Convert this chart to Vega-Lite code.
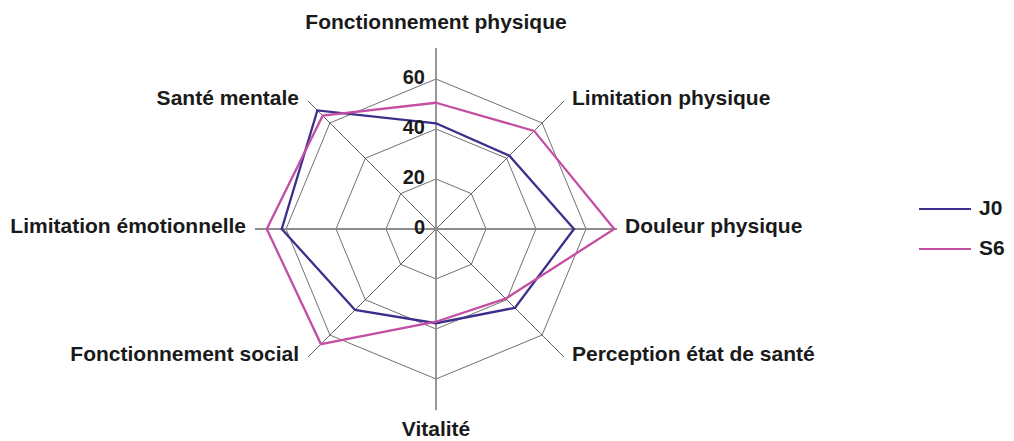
{
  "$schema": "https://vega.github.io/schema/vega-lite/v6.json",
  "width": 1014,
  "height": 441,
  "padding": 0,
  "autosize": {"type": "none"},
  "background": "white",
  "config": {"view": {"stroke": null}, "font": "Liberation Sans"},
  "datasets": {
    "axes": [
      {"axis": "Fonctionnement physique", "k": 0},
      {"axis": "Limitation physique", "k": 1},
      {"axis": "Douleur physique", "k": 2},
      {"axis": "Perception état de santé", "k": 3},
      {"axis": "Vitalité", "k": 4},
      {"axis": "Fonctionnement social", "k": 5},
      {"axis": "Limitation émotionnelle", "k": 6},
      {"axis": "Santé mentale", "k": 7}
    ],
    "grid": [
      {"level": 20, "k": 0}, {"level": 20, "k": 1}, {"level": 20, "k": 2}, {"level": 20, "k": 3},
      {"level": 20, "k": 4}, {"level": 20, "k": 5}, {"level": 20, "k": 6}, {"level": 20, "k": 7},
      {"level": 40, "k": 0}, {"level": 40, "k": 1}, {"level": 40, "k": 2}, {"level": 40, "k": 3},
      {"level": 40, "k": 4}, {"level": 40, "k": 5}, {"level": 40, "k": 6}, {"level": 40, "k": 7},
      {"level": 60, "k": 0}, {"level": 60, "k": 1}, {"level": 60, "k": 2}, {"level": 60, "k": 3},
      {"level": 60, "k": 4}, {"level": 60, "k": 5}, {"level": 60, "k": 6}, {"level": 60, "k": 7}
    ],
    "ticks": [{"level": 0}, {"level": 20}, {"level": 40}, {"level": 60}],
    "scores": [
      {"serie": "J0", "axis": "Fonctionnement physique", "k": 0, "value": 42.3},
      {"serie": "J0", "axis": "Limitation physique", "k": 1, "value": 41.5},
      {"serie": "J0", "axis": "Douleur physique", "k": 2, "value": 55.2},
      {"serie": "J0", "axis": "Perception état de santé", "k": 3, "value": 44.6},
      {"serie": "J0", "axis": "Vitalité", "k": 4, "value": 37.7},
      {"serie": "J0", "axis": "Fonctionnement social", "k": 5, "value": 45.8},
      {"serie": "J0", "axis": "Limitation émotionnelle", "k": 6, "value": 61.7},
      {"serie": "J0", "axis": "Santé mentale", "k": 7, "value": 67.1},
      {"serie": "S6", "axis": "Fonctionnement physique", "k": 0, "value": 50.5},
      {"serie": "S6", "axis": "Limitation physique", "k": 1, "value": 55.5},
      {"serie": "S6", "axis": "Douleur physique", "k": 2, "value": 71.3},
      {"serie": "S6", "axis": "Perception état de santé", "k": 3, "value": 39.4},
      {"serie": "S6", "axis": "Vitalité", "k": 4, "value": 37.1},
      {"serie": "S6", "axis": "Fonctionnement social", "k": 5, "value": 65.1},
      {"serie": "S6", "axis": "Limitation émotionnelle", "k": 6, "value": 67.7},
      {"serie": "S6", "axis": "Santé mentale", "k": 7, "value": 64.1}
    ]
  },
  "encoding": {
    "x": {"field": "x", "type": "quantitative", "scale": {"domain": [-174.4, 231.2], "nice": false, "zero": false}, "axis": null},
    "y": {"field": "y", "type": "quantitative", "scale": {"domain": [-84.8, 91.6], "nice": false, "zero": false}, "axis": null}
  },
  "layer": [
    {
      "data": {"name": "grid"},
      "transform": [
        {"calculate": "datum.k * PI / 4", "as": "a"},
        {"calculate": "datum.level * sin(datum.a)", "as": "x"},
        {"calculate": "datum.level * cos(datum.a)", "as": "y"}
      ],
      "mark": {"type": "line", "interpolate": "linear-closed", "stroke": "#4d4d4d", "strokeWidth": 0.8},
      "encoding": {
        "detail": {"field": "level", "type": "nominal"},
        "order": {"field": "k", "type": "quantitative"}
      }
    },
    {
      "data": {"name": "axes"},
      "transform": [
        {"filter": "datum.k % 2 == 1"},
        {"calculate": "datum.k * PI / 4", "as": "a"},
        {"calculate": "72.4 * sin(datum.a)", "as": "x"},
        {"calculate": "72.4 * cos(datum.a)", "as": "y"}
      ],
      "mark": {"type": "rule", "stroke": "#3a3a3a", "strokeWidth": 0.8},
      "encoding": {"x2": {"datum": 0}, "y2": {"datum": 0}}
    },
    {
      "data": {"name": "axes"},
      "transform": [
        {"filter": "datum.k % 2 == 0"},
        {"calculate": "datum.k * PI / 4", "as": "a"},
        {"calculate": "72.4 * sin(datum.a)", "as": "x"},
        {"calculate": "72.4 * cos(datum.a)", "as": "y"}
      ],
      "mark": {"type": "rule", "stroke": "#8c8c8c", "strokeWidth": 1.8},
      "encoding": {"x2": {"datum": 0}, "y2": {"datum": 0}}
    },
    {
      "data": {"name": "scores"},
      "transform": [
        {"calculate": "datum.k * PI / 4", "as": "a"},
        {"calculate": "datum.value * sin(datum.a)", "as": "x"},
        {"calculate": "datum.value * cos(datum.a)", "as": "y"}
      ],
      "mark": {"type": "line", "interpolate": "linear-closed", "strokeWidth": 2.3},
      "encoding": {
        "color": {
          "field": "serie",
          "type": "nominal",
          "scale": {"domain": ["J0", "S6"], "range": ["#3b2f8b", "#c44ea3"]},
          "legend": {
            "title": null,
            "orient": "none",
            "legendX": 918,
            "legendY": 182,
            "symbolType": "stroke",
            "symbolSize": 2700,
            "symbolStrokeWidth": 2,
            "labelFontSize": 21,
            "labelFont": "Liberation Sans",
            "labelFontWeight": "bold",
            "labelColor": "#1a1a1a",
            "labelOffset": 7,
            "rowPadding": 3
          }
        },
        "order": {"field": "k", "type": "quantitative"}
      }
    },
    {
      "data": {"name": "ticks"},
      "transform": [
        {"calculate": "0", "as": "x"},
        {"calculate": "datum.level", "as": "y"}
      ],
      "mark": {"type": "text", "align": "right", "baseline": "middle", "dx": -11, "dy": -1, "fontSize": 20, "fontWeight": "bold", "color": "#1a1a1a"},
      "encoding": {"text": {"field": "level", "type": "quantitative"}}
    },
    {
      "data": {"name": "axes"},
      "transform": [
        {"filter": "datum.k >= 1 && datum.k <= 3"},
        {"calculate": "datum.k * PI / 4", "as": "a"},
        {"calculate": "72.4 * sin(datum.a)", "as": "x"},
        {"calculate": "72.4 * cos(datum.a)", "as": "y"}
      ],
      "mark": {"type": "text", "align": "left", "baseline": "middle", "dx": 8, "dy": -2, "fontSize": 21, "fontWeight": "bold", "color": "#1a1a1a"},
      "encoding": {"text": {"field": "axis", "type": "nominal"}}
    },
    {
      "data": {"name": "axes"},
      "transform": [
        {"filter": "datum.k >= 5"},
        {"calculate": "datum.k * PI / 4", "as": "a"},
        {"calculate": "72.4 * sin(datum.a)", "as": "x"},
        {"calculate": "72.4 * cos(datum.a)", "as": "y"}
      ],
      "mark": {"type": "text", "align": "right", "baseline": "middle", "dx": -9, "dy": -2, "fontSize": 21, "fontWeight": "bold", "color": "#1a1a1a"},
      "encoding": {"text": {"field": "axis", "type": "nominal"}}
    },
    {
      "data": {"name": "axes"},
      "transform": [
        {"filter": "datum.k == 0"},
        {"calculate": "0", "as": "x"},
        {"calculate": "72.4", "as": "y"}
      ],
      "mark": {"type": "text", "align": "center", "baseline": "middle", "dy": -25, "fontSize": 21, "fontWeight": "bold", "color": "#1a1a1a"},
      "encoding": {"text": {"field": "axis", "type": "nominal"}}
    },
    {
      "data": {"name": "axes"},
      "transform": [
        {"filter": "datum.k == 4"},
        {"calculate": "0", "as": "x"},
        {"calculate": "-72.4", "as": "y"}
      ],
      "mark": {"type": "text", "align": "center", "baseline": "middle", "dy": 20, "fontSize": 21, "fontWeight": "bold", "color": "#1a1a1a"},
      "encoding": {"text": {"field": "axis", "type": "nominal"}}
    }
  ]
}
